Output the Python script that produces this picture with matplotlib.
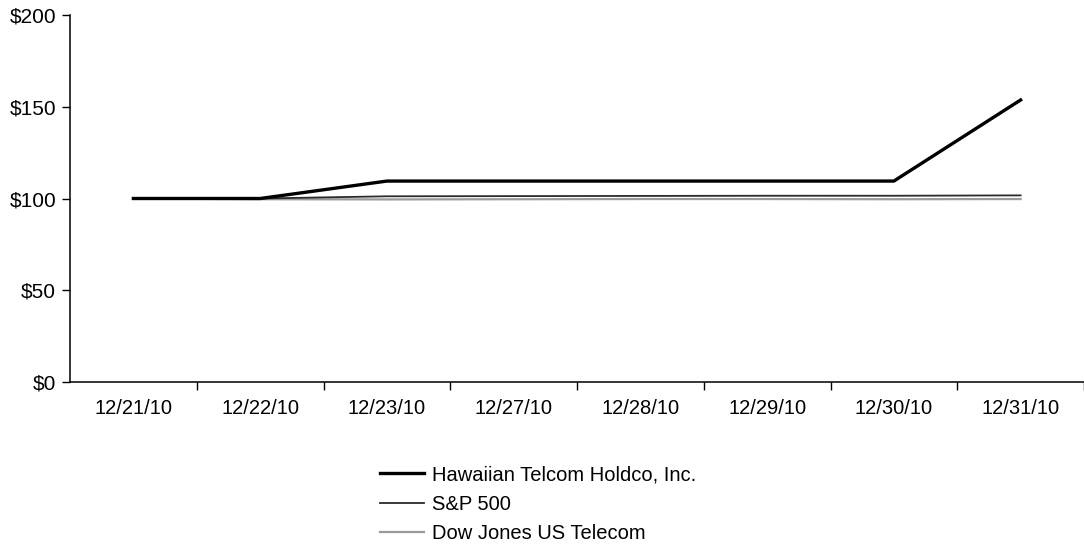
import matplotlib
matplotlib.use("Agg")
import matplotlib.pyplot as plt
import numpy as np

dates = ["12/21/10", "12/22/10", "12/23/10", "12/27/10", "12/28/10", "12/29/10", "12/30/10", "12/31/10"]
hawaiian = [100, 100, 109.5, 109.5, 109.5, 109.5, 109.5, 153.7]
sp500 = [100, 100, 101.2, 101.3, 101.4, 101.5, 101.5, 101.7]
dowjones = [100, 99.6, 99.5, 99.6, 99.7, 99.7, 99.6, 99.7]
y_ticks = [0, 50, 100, 150, 200]
y_labels = ["$0", "$50", "$100", "$150", "$200"]

plt.rcParams['font.family'] = ['Liberation Sans', 'DejaVu Sans']

fig = plt.figure(figsize=(10.84, 5.53), dpi=100)
ax = fig.add_axes([70/1084, 1 - 382/553, (1084 - 70)/1084, (382 - 15)/553])

x = np.arange(len(dates))
ax.plot(x, dowjones, color="#9a9a9a", lw=1.6, label="Dow Jones US Telecom")
ax.plot(x, sp500, color="#2a2a2a", lw=1.3, label="S&P 500")
ax.plot(x, hawaiian, color="black", lw=2.4, label="Hawaiian Telcom Holdco, Inc.")

ax.set_xlim(-0.5, len(dates) - 0.5)
ax.set_ylim(0, 200)
ax.set_yticks(y_ticks)
ax.set_yticklabels(y_labels, fontsize=15)
ax.set_xticks(x)
ax.set_xticklabels(dates, fontsize=14.5)
ax.set_xticks(np.arange(len(dates)) + 0.5, minor=True)
ax.tick_params(axis='x', which='major', length=0, pad=12)
ax.tick_params(axis='x', which='minor', length=6, width=1, direction='out')
ax.tick_params(axis='y', length=6, width=1, direction='out', pad=4)
for s in ["top", "right"]:
    ax.spines[s].set_visible(False)
ax.spines["left"].set_linewidth(1.1)
ax.spines["bottom"].set_linewidth(1.1)

handles, labels = ax.get_legend_handles_labels()
order = [2, 1, 0]
leg = fig.legend([handles[i] for i in order], [labels[i] for i in order],
                 loc="upper left", bbox_to_anchor=(362/1084, 1 - 447/553),
                 frameon=False, fontsize=14.5, handlelength=2.2, handletextpad=0.4,
                 labelspacing=0.52)

fig.savefig("out.png", dpi=100)
